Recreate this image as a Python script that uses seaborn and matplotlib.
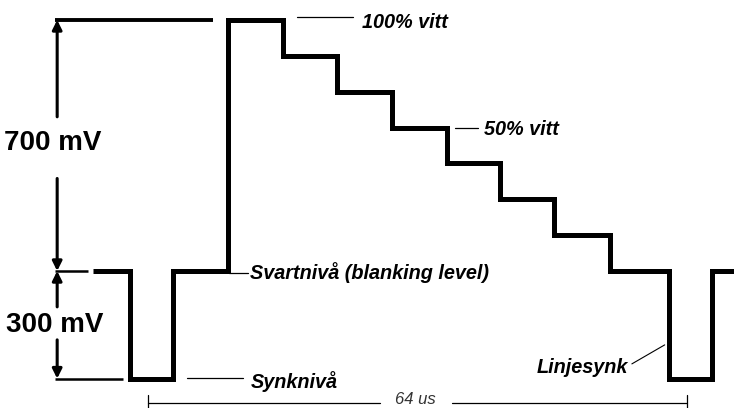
import matplotlib
matplotlib.use("Agg")
import matplotlib.pyplot as plt
import seaborn as sns
import pandas as pd

# video line signal: step edges (us, 0 = first sync edge) and level after each edge (mV)
edge_times = [-4.4, 0.0, 5.1, 11.6, 18.2, 24.6, 31.1, 37.6, 43.9, 50.4, 57.0, 64.0, 69.1, 71.8]
edge_levels = [0, -300, 0, 700, 600, 500, 400, 300, 200, 100, 0, -300, 0, 0]

white_level = 700
black_level = 0
sync_level = -300
line_period = 64  # us

sns.set_style("white")
plt.rcParams['font.family'] = ['Liberation Sans', 'DejaVu Sans']
plt.rcParams['text.color'] = 'black'

signal = pd.DataFrame({'t': edge_times, 'mV': edge_levels})

fig = plt.figure(figsize=(7.34, 4.08), dpi=100)
ax = fig.add_axes([0, 0, 1, 1])

# the waveform itself
sns.lineplot(data=signal, x='t', y='mV', drawstyle='steps-post', estimator=None,
             color='black', lw=3.6, solid_joinstyle='miter', solid_capstyle='butt', ax=ax)

# reference lines on the left
ax.plot([-8.9, 9.9], [white_level, white_level], color='black', lw=2.8, solid_capstyle='butt')
ax.plot([-8.9, -5.0], [black_level, black_level], color='black', lw=1.8, solid_capstyle='butt')
ax.plot([-8.9, -0.8], [sync_level, sync_level], color='black', lw=1.8, solid_capstyle='butt')

# dimension arrows
xd = -8.65
arrow = dict(arrowstyle='-|>', color='black', lw=2.2, mutation_scale=14, shrinkA=0, shrinkB=0)
ax.annotate('', xy=(xd, white_level), xytext=(xd, 430), arrowprops=arrow)
ax.annotate('', xy=(xd, black_level), xytext=(xd, 258), arrowprops=arrow)
ax.annotate('', xy=(xd, black_level), xytext=(xd, -100), arrowprops=arrow)
ax.annotate('', xy=(xd, sync_level), xytext=(xd, -192), arrowprops=arrow)

big = dict(fontsize=20, fontweight='bold', ha='center', va='center', color='black')
ax.text(-9.2, 357, '700 mV', **big)
ax.text(-9.0, -150, '300 mV', **big)

# labels with leader lines
lbl = dict(fontsize=14.3, fontweight='bold', fontstyle='italic', va='center', color='black')
ax.plot([19.8, 26.5], [708, 708], color='black', lw=0.9)
ax.text(27.5, 694, '100% vitt', ha='left', **lbl)
ax.plot([38.6, 41.3], [399, 399], color='black', lw=0.9)
ax.text(42.0, 394, '50% vitt', ha='left', **lbl)
ax.plot([11.7, 14.0], [-6, -6], color='black', lw=0.9)
ax.text(14.3, -5, 'Svartnivå (blanking level)', ha='left', **lbl)
ax.plot([6.8, 13.4], [-298, -298], color='black', lw=0.9)
ax.text(14.3, -307, 'Synknivå', ha='left', **lbl)
ax.plot([59.6, 63.5], [-259, -206], color='black', lw=0.8)
ax.text(59.1, -268, 'Linjesynk', ha='right', **lbl)

# 64 us period bracket
y64 = -368
ax.plot([2.1, 29.7], [y64, y64], color='black', lw=0.9)
ax.plot([38.2, 2.1 + line_period], [y64, y64], color='black', lw=0.9)
ax.plot([2.1, 2.1], [-346, -392], color='black', lw=0.9)
ax.plot([2.1 + line_period, 2.1 + line_period], [-346, -392], color='black', lw=0.9)
ax.text(33.9, -357, f'{line_period} us', fontsize=12, fontstyle='italic', color='#333333',
        ha='center', va='center')

ax.set_xlim(-15.44, 71.73)
ax.set_ylim(-382, 755.7)
ax.axis('off')

fig.savefig('out.png', dpi=100)
